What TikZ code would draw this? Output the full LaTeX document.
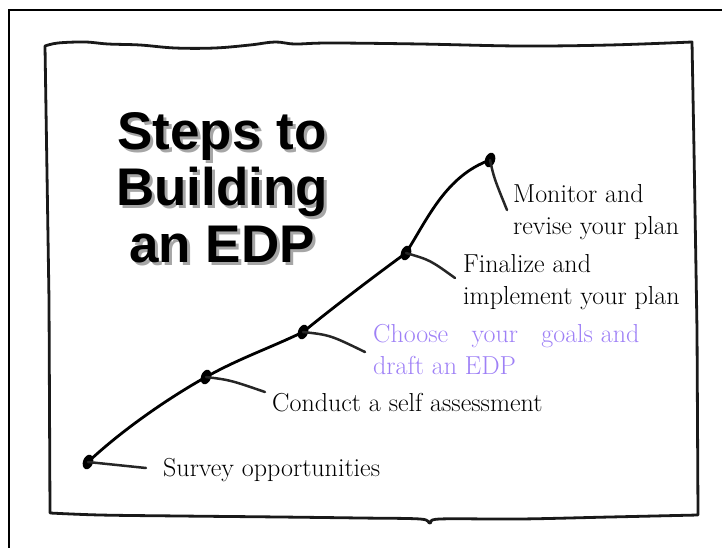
\documentclass[tikz,border=0pt]{standalone}
\usepackage{fontspec}
\newfontfamily\headfont{Liberation Sans}
\usetikzlibrary{shapes.geometric}

\definecolor{lilac}{RGB}{158,128,246}

\begin{document}
\begin{tikzpicture}[
  x=1pt, y=-1pt,
  frame/.style={line width=2.6pt, draw=black},
  sketch/.style={line width=2.8pt, draw=black!90, line cap=round, line join=round},
  trail/.style={line width=2.8pt, draw=black, line cap=round},
  leader/.style={line width=2.5pt, draw=black!85, line cap=round},
  dot/.style={ellipse, fill=black, inner sep=0pt, minimum width=10pt, minimum height=15pt},
  label/.style={anchor=base west, inner sep=0pt, align=left, font=\fontsize{26}{31.5}\selectfont},
  title/.style={anchor=base, inner sep=0pt, align=center, font=\headfont\bfseries\fontsize{53}{56.5}\selectfont}
]
\useasboundingbox (0,0) rectangle (722,548);

% outer slide border, cut off on the right and bottom
\draw[frame] (722,10) -- (9,10) -- (9,548);

% hand drawn box
\draw[sketch] plot[smooth, tension=0.6] coordinates {(45,46) (58,43) (85,42) (108,44) (140,45) (175,48) (215,48) (250,45) (275,42) (295,44) (330,43) (420,44) (520,46) (610,45) (692,42)}
  -- (694,150) -- (697,330) -- (698,515)
  -- plot[smooth, tension=0.6] coordinates {(698,515) (610,517) (520,519) (440,519) (430,523) (420,519) (360,518) (280,517) (180,516) (100,515) (50,513)}
  -- (49,300) -- cycle;

% title with drop shadow (base sits on the last line)
\node[title, text=black!35] (headshadow) at (225,265)
  {Steps to\\Building\\an EDP};
\node[title] (head) at (222,262)
  {Steps to\\Building\\an EDP};

% the steps
\node[dot, rotate=-20] (survey) at (88,462) {};
\node[dot, rotate=-20] (assess) at (206,377) {};
\node[dot, rotate=-20] (goals) at (303,332) {};
\node[dot, rotate=-20] (final) at (406,253) {};
\node[dot, rotate=-20] (monitor) at (490,160) {};

\draw[trail] (survey.center) .. controls (120,432) and (165,400) .. (assess.center)
  .. controls (240,358) and (270,348) .. (goals.center)
  .. controls (340,302) and (380,272) .. (final.center)
  .. controls (428,218) and (446,176) .. (monitor.center);

% leader ends
\coordinate (surveyend) at (146,468);
\coordinate (assessend) at (265,392);
\coordinate (goalsend) at (365,352);
\coordinate (finalend) at (455,278);
\coordinate (monitorend) at (507,210);

\draw[leader] (survey.center) -- (surveyend);
\draw[leader] (assess.center) .. controls (230,380) .. (assessend);
\draw[leader] (goals.center) .. controls (330,335) .. (goalsend);
\draw[leader] (final.center) .. controls (430,260) .. (finalend);
\draw[leader] (monitor.center) .. controls (494,178) .. (monitorend);

\node[label] (surveytext) at (163,476) {Survey opportunities};
\node[label] (assesstext) at (272,411) {Conduct a self assessment};
\node[label, text=lilac] (goalstext) at (373,374)
  {Choose\hspace{0.9em}your\hspace{0.9em}goals and\\draft an EDP};
\node[label] (finaltext) at (463,304) {Finalize and\\implement your plan};
\node[label] (monitortext) at (513,234) {Monitor and\\revise your plan};

\end{tikzpicture}
\end{document}
